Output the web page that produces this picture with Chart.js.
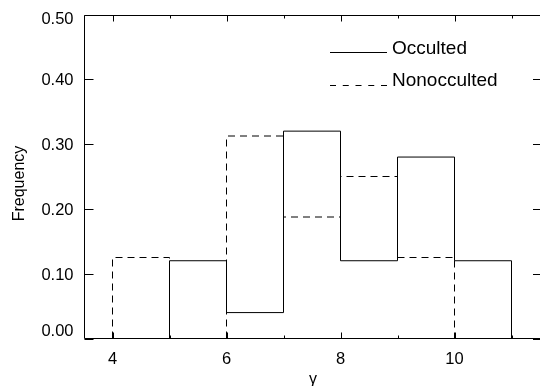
<!DOCTYPE html>
<html>
<head>
<meta charset="utf-8">
<script src="https://cdn.jsdelivr.net/npm/chart.js@4"></script>
<style>
  html, body { margin: 0; padding: 0; background: #fff; overflow: hidden; }
  #wrap { width: 540px; height: 386px; }
</style>
</head>
<body>
<div id="wrap"><canvas id="chart" width="540" height="386"></canvas></div>
<script>
// histogram bins (edges) and frequencies per bin
const binEdges = [4, 5, 6, 7, 8, 9, 10, 11];
const occulted = [0, 0.12, 0.04, 0.32, 0.12, 0.28, 0.12];
const nonocculted = [0.125, 0, 0.3125, 0.1875, 0.25, 0.125, 0];
const seriesNames = ['Occulted', 'Nonocculted'];

const xTicks = [4, 6, 8, 10];
const xMinorTicks = [5, 7, 9, 11];
const yTicks = [0, 0.1, 0.2, 0.3, 0.4, 0.5];
const yTickLabels = ['0.00', '0.10', '0.20', '0.30', '0.40', '0.50'];

const FONT = "'Liberation Sans', Arial, Helvetica, sans-serif";
Chart.defaults.font.family = FONT;
Chart.defaults.color = '#000';

// outline of a histogram: start at baseline, step along each bin, back to baseline
function histPoints(values) {
  const pts = [{x: binEdges[0], y: 0}];
  for (let i = 0; i < values.length; i++) pts.push({x: binEdges[i], y: values[i]});
  pts.push({x: binEdges[binEdges.length - 1], y: 0});
  return pts;
}

// frame, inward ticks, y labels, titles and legend (IDL style)
const framePlugin = {
  id: 'frame',
  afterDraw(chart) {
    const {ctx, chartArea: a, scales: {x, y}} = chart;
    const W = chart.width;
    const L = Math.round(a.left) + 0.5;
    const T = Math.round(a.top) + 0.5, B = Math.round(a.bottom) - 0.5;
    ctx.save();
    ctx.strokeStyle = '#000';
    ctx.lineWidth = 1;
    ctx.beginPath();
    // right edge of the box falls just outside the picture
    ctx.moveTo(W, T); ctx.lineTo(L, T); ctx.lineTo(L, B); ctx.lineTo(W, B);
    xTicks.forEach(v => {
      const px = Math.round(x.getPixelForValue(v)) + 0.5;
      ctx.moveTo(px, B); ctx.lineTo(px, B - 6);
      ctx.moveTo(px, T); ctx.lineTo(px, T + 6);
    });
    xMinorTicks.forEach(v => {
      const px = Math.round(x.getPixelForValue(v)) + 0.5;
      ctx.moveTo(px, B); ctx.lineTo(px, B - 3);
      ctx.moveTo(px, T); ctx.lineTo(px, T + 3);
    });
    yTicks.forEach(v => {
      const py = Math.round(y.getPixelForValue(v)) + 0.5;
      ctx.moveTo(L, py); ctx.lineTo(L + 9, py);
      ctx.moveTo(W, py); ctx.lineTo(W - 7, py);
    });
    ctx.stroke();

    // y tick labels, end labels kept inside the frame
    ctx.fillStyle = '#000';
    ctx.font = '16.5px ' + FONT;
    ctx.textAlign = 'right';
    ctx.textBaseline = 'alphabetic';
    yTicks.forEach((v, i) => {
      const py = y.getPixelForValue(v);
      const base = Math.min(Math.max(py + 6, a.top + 9.5), a.bottom - 2.5);
      ctx.fillText(yTickLabels[i], a.left - 10.5, base);
    });

    // axis titles
    ctx.font = '16px ' + FONT;
    ctx.textAlign = 'center';
    ctx.save();
    ctx.translate(24, 183.5);
    ctx.rotate(-Math.PI / 2);
    ctx.fillText('Frequency', 0, 0);
    ctx.restore();
    ctx.fillText('γ', 313, 384);

    // legend
    ctx.beginPath();
    ctx.moveTo(330, 52.5); ctx.lineTo(387, 52.5);
    ctx.stroke();
    ctx.setLineDash([6, 6.75]);
    ctx.beginPath();
    ctx.moveTo(330, 85.5); ctx.lineTo(387, 85.5);
    ctx.stroke();
    ctx.setLineDash([]);
    ctx.font = '19px ' + FONT;
    ctx.textAlign = 'left';
    ctx.fillText(seriesNames[0], 392, 54);
    ctx.fillText(seriesNames[1], 392, 86);
    ctx.restore();
  }
};

new Chart(document.getElementById('chart'), {
  type: 'line',
  data: {
    datasets: [
      {
        label: seriesNames[0],
        data: histPoints(occulted),
        stepped: 'before',
        borderColor: '#000',
        borderWidth: 1,
        pointRadius: 0,
        fill: false
      },
      {
        label: seriesNames[1],
        data: histPoints(nonocculted),
        stepped: 'before',
        borderColor: '#000',
        borderWidth: 1,
        borderDash: [7, 5],
        pointRadius: 0,
        fill: false
      }
    ]
  },
  options: {
    responsive: false,
    animation: false,
    layout: { padding: { top: 14.5, right: -1.5, left: 0, bottom: 0 } },
    plugins: { legend: { display: false }, tooltip: { enabled: false } },
    scales: {
      x: {
        type: 'linear',
        min: 3.5,
        max: 11.5,
        grid: { display: false, drawTicks: false },
        border: { display: false },
        afterBuildTicks: s => { s.ticks = xTicks.map(v => ({ value: v })); },
        afterFit: s => { s.height = 47.5; },
        ticks: { font: { size: 16.5 }, padding: 11, maxRotation: 0, autoSkip: false }
      },
      y: {
        min: 0,
        max: 0.5,
        grid: { display: false, drawTicks: false },
        border: { display: false },
        afterBuildTicks: s => { s.ticks = yTicks.map(v => ({ value: v })); },
        afterFit: s => { s.width = 84; },
        ticks: { display: false }
      }
    }
  },
  plugins: [framePlugin]
});
</script>
</body>
</html>
